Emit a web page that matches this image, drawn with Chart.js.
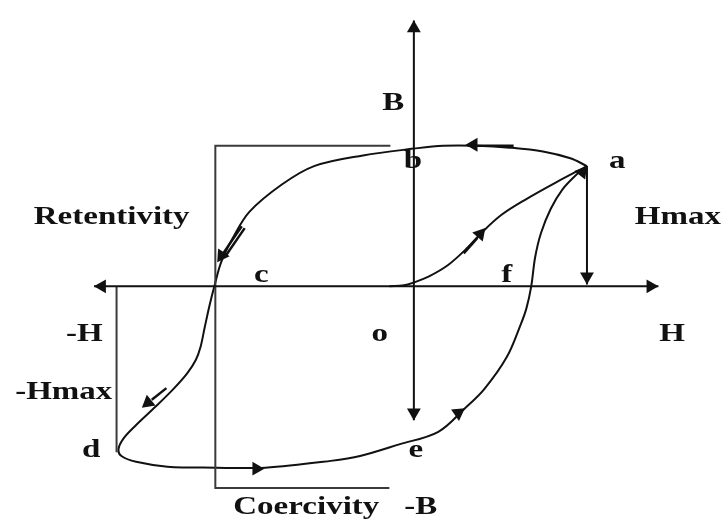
<!DOCTYPE html>
<html lang="en">
<head>
<meta charset="UTF-8">
<title>B-H hysteresis loop</title>
<script src="https://cdn.jsdelivr.net/npm/chart.js@4.4.0/dist/chart.umd.min.js"></script>
<style>
  html, body { margin: 0; padding: 0; background: #fff; }
  .wrap { position: relative; width: 727px; height: 529px; }
</style>
</head>
<body>
<div class="wrap"><canvas id="loop"></canvas></div>
<script>
// coordinates: H to the right, B up, origin at "o"

// initial magnetisation o -> a
const initH = [-25, -10, 0, 15, 35, 55, 70, 90, 115, 145, 177];
const initB = [0, 1, 4, 10, 22, 40, 56, 74, 90, 107, 124];

// main loop a -> b -> c -> d -> e -> f -> a
const loopH = [177, 160, 132, 98, 65, 30, 0, -52, -102, -135, -168, -185, -197, -204,
  -209, -214, -218, -223, -232, -246, -264, -284, -297, -302, -299, -284, -252, -202, -152,
  -85, -55, -15, 25, 52, 72, 95, 109, 115, 120, 124, 130, 140, 152, 165, 177];
const loopB = [124, 132, 139, 143, 145, 145, 142, 135, 124, 105, 77, 50, 25, 0,
  -20, -43, -62, -76, -90, -106, -124, -143, -157, -168, -175, -181, -186, -187, -187,
  -180, -175, -163, -150, -126, -106, -73, -40, -23, 0, 30, 55, 80, 100, 114, 124];

// axes
const hAxisH = [-327, 250];
const hAxisB = [0, 0];
const bAxisH = [0, 0];
const bAxisB = [274, -138];

// Hmax drop line from a
const hmaxH = [177, 177];
const hmaxB = [124, 2];

// retentivity / coercivity bracket
const bracketH = [-24, -203, -203, -25];
const bracketB = [145, 145, -208, -208];

// -H bracket
const negHH = [-304, -304];
const negHB = [0, -171];

// arrow tips and their direction (degrees, clockwise from up)
const arrowH = [0, 0, 250, -327, 177, 53, 73, -201, -278, -153, 52, 177];
const arrowB = [274, -138, 0, 0, 2, 146, 60, 25, -125, -188, -126, 124];
const arrowDir = [0, 180, 90, 270, 180, 270, 41, 214, 231, 90, 55, 38];

// short thick strokes beside arrowheads
const tails = [
  [[55, 145], [102, 145]],
  [[51, 34], [65, 50]],
  [[-176, 62], [-195, 34]],
  [[-173, 60], [-192, 32]],
  [[-253, -105], [-268, -117]]
];

// labels
const labelText = ['B', 'a', 'b', 'Retentivity', 'Hmax', 'c', 'f', '-H', 'o', 'H',
  '-Hmax', 'd', 'e', 'Coercivity', '-B'];
const labelH = [-21, 208, -1, -309, 270, -156, 95, -337, -35, 264, -358, -330, 2, -110, 7];
const labelB = [182, 122, 122, 64, 64, 4, 4, -56, -56, -56, -116, -176, -176, -235, -235];

const pts = (hs, bs) => hs.map((h, i) => ({ x: h, y: bs[i] }));

const ARROW_R = 8;
const arrowPts = arrowH.map((h, i) => {
  const t = arrowDir[i] * Math.PI / 180;
  return { x: h - ARROW_R * Math.sin(t), y: arrowB[i] - ARROW_R * Math.cos(t) };
});

const line = (data, extra) => Object.assign({
  data,
  showLine: true,
  borderColor: '#111',
  borderWidth: 2,
  pointRadius: 0,
  tension: 0,
  fill: false,
}, extra || {});

const datasets = [
  line(pts(hAxisH, hAxisB)),
  line(pts(bAxisH, bAxisB)),
  line(pts(hmaxH, hmaxB)),
  line(pts(bracketH, bracketB), { borderColor: '#3a3a3a' }),
  line(pts(negHH, negHB), { borderColor: '#3a3a3a' }),
  line(pts(initH, initB), { tension: 0.35 }),
  line(pts(loopH, loopB), { tension: 0.35 }),
  ...tails.map(t => line(t.map(p => ({ x: p[0], y: p[1] })), { borderWidth: 2.5 })),
  {
    data: arrowPts,
    showLine: false,
    pointStyle: 'triangle',
    pointRadius: ARROW_R,
    pointRotation: arrowDir,
    pointBackgroundColor: '#111',
    pointBorderWidth: 0,
  },
];

const labelPlugin = {
  id: 'labels',
  afterDatasetsDraw(chart) {
    const { ctx, scales: { x, y } } = chart;
    ctx.save();
    ctx.fillStyle = '#111';
    ctx.font = 'bold 26px "Liberation Serif", "Times New Roman", serif';
    ctx.textAlign = 'center';
    ctx.textBaseline = 'alphabetic';
    labelText.forEach((t, i) => {
      ctx.save();
      ctx.translate(x.getPixelForValue(labelH[i]), y.getPixelForValue(labelB[i]));
      ctx.scale(1.27, 1);
      ctx.fillText(t, 0, 0);
      ctx.restore();
    });
    ctx.restore();
  }
};

new Chart(document.getElementById('loop'), {
  type: 'scatter',
  data: { datasets },
  options: {
    responsive: true,
    maintainAspectRatio: false,
    animation: false,
    layout: { padding: 0 },
    plugins: { legend: { display: false }, tooltip: { enabled: false } },
    scales: {
      x: { type: 'linear', min: -415, max: 312, display: false },
      y: { type: 'linear', min: -242, max: 287, display: false },
    },
  },
  plugins: [labelPlugin],
});
</script>
</body>
</html>
